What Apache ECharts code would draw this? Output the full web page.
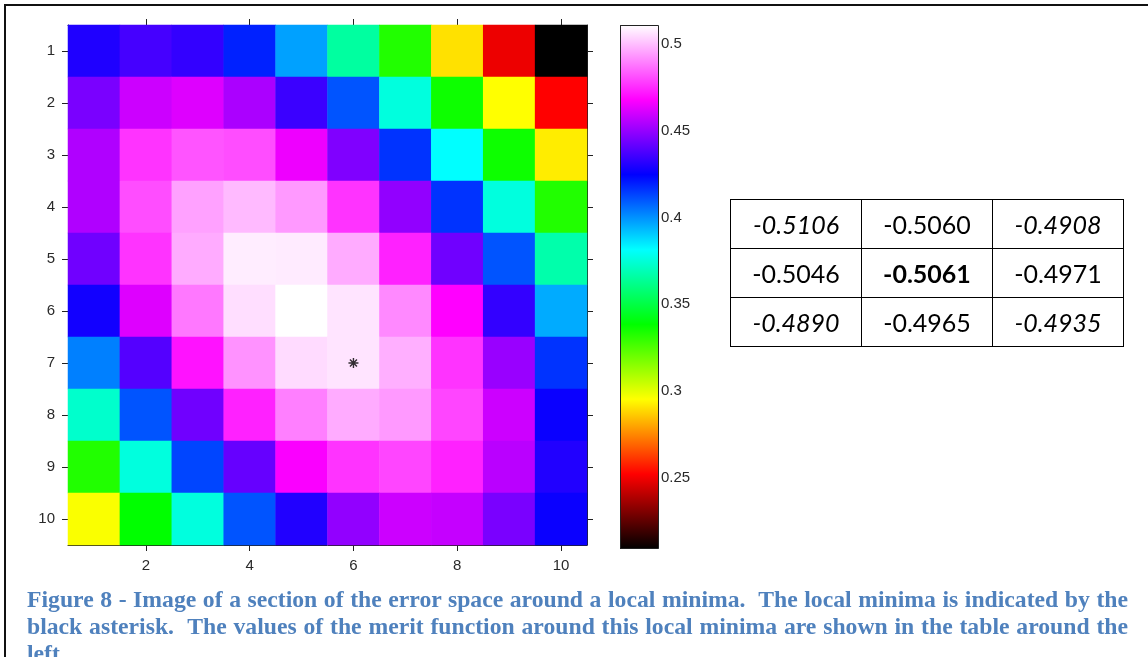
<!DOCTYPE html>
<html>
<head>
<meta charset="utf-8">
<script src="https://cdn.jsdelivr.net/npm/echarts@6/dist/echarts.min.js"></script>
<style>
  html, body { margin: 0; padding: 0; background: #fff; width: 1148px; height: 657px; overflow: hidden; }
  #chart { position: absolute; left: 0; top: 0; width: 1148px; height: 657px; }
  #ftop { position: absolute; left: 4px; top: 4px; width: 1144px; height: 2px; background: #111; }
  #fleft { position: absolute; left: 4px; top: 4px; width: 2px; height: 653px; background: #111; }
  #tbl { position: absolute; left: 730px; top: 199px; border-collapse: collapse; font-family: Lato, "Open Sans", sans-serif; font-size: 25px; color: #000; }
  #tbl td { border: 1px solid #000; width: 130px; height: 48px; padding: 0; text-align: center; vertical-align: middle; }
  .cap { position: absolute; left: 27px; width: 1101px; font-family: "Liberation Serif", "Times New Roman", serif; font-weight: bold; font-size: 23.7px; line-height: 27px; color: #4f81bd; white-space: nowrap; }
  .just { text-align: justify; text-align-last: justify; }
</style>
</head>
<body>
<div id="chart"></div>
<div id="ftop"></div>
<div id="fleft"></div>
<table id="tbl"></table>
<div class="cap just" style="top:586px">Figure 8 - Image of a section of the error space around a local minima.&nbsp; The local minima is indicated by the</div>
<div class="cap just" style="top:613px">black asterisk.&nbsp; The values of the merit function around this local minima are shown in the table around the</div>
<div class="cap" style="top:640px">left</div>
<script>
// ---- data ----
const xCategories = ['1','2','3','4','5','6','7','8','9','10'];
const yCategories = ['1','2','3','4','5','6','7','8','9','10'];
const row1  = [0.4299, 0.4363, 0.4333, 0.4191, 0.3976, 0.3658, 0.3332, 0.2907, 0.2499, 0.2099];
const row2  = [0.4453, 0.4591, 0.4621, 0.4535, 0.4346, 0.4105, 0.3762, 0.3366, 0.2958, 0.2529];
const row3  = [0.4543, 0.4763, 0.4818, 0.4806, 0.4647, 0.4462, 0.4161, 0.3817, 0.3366, 0.2928];
const row4  = [0.4543, 0.4806, 0.4947, 0.4990, 0.4934, 0.4763, 0.4492, 0.4161, 0.3762, 0.3332];
const row5  = [0.4436, 0.4763, 0.4964, 0.5076, 0.5072, 0.4964, 0.4732, 0.4436, 0.4105, 0.3676];
const row6  = [0.4277, 0.4621, 0.4879, 0.5050, 0.5106, 0.5060, 0.4908, 0.4677, 0.4333, 0.3959];
const row7  = [0.4032, 0.4389, 0.4707, 0.4922, 0.5046, 0.5061, 0.4971, 0.4763, 0.4505, 0.4161];
const row8  = [0.3732, 0.4105, 0.4436, 0.4732, 0.4890, 0.4965, 0.4935, 0.4793, 0.4591, 0.4264];
const row9  = [0.3332, 0.3762, 0.4131, 0.4419, 0.4668, 0.4763, 0.4793, 0.4732, 0.4561, 0.4303];
const row10 = [0.2967, 0.3388, 0.3762, 0.4105, 0.4303, 0.4492, 0.4591, 0.4578, 0.4453, 0.4264];
const rows = [row1, row2, row3, row4, row5, row6, row7, row8, row9, row10];
const minimumMarker = ['6', '7'];           // column, row of the asterisk
const colorMin = 0.2099, colorMax = 0.5106;  // colour bar range
const colormap = ['#000000', '#ff0000', '#ffff00', '#00ff00', '#00ffff', '#0000ff', '#ff00ff', '#ffffff'];
// table: merit function (negated) around the minimum: rows 6-8, columns 5-7
const tableRows = [5, 6, 7];
const tableCols = [4, 5, 6];
const tableStyles = [['i','n','i'], ['n','b','n'], ['i','n','i']];

// ---- build ----
const heatData = [];
rows.forEach((r, yi) => r.forEach((v, xi) => heatData.push([xi, yi, v])));

const tbl = document.getElementById('tbl');
tableRows.forEach((ri, a) => {
  const tr = document.createElement('tr');
  tableCols.forEach((ci, b) => {
    const td = document.createElement('td');
    td.textContent = (-rows[ri][ci]).toFixed(4);
    const s = tableStyles[a][b];
    if (s === 'i') td.style.fontStyle = 'italic';
    if (s === 'b') td.style.fontWeight = 'bold';
    tr.appendChild(td);
  });
  tbl.appendChild(tr);
});

const chart = echarts.init(document.getElementById('chart'), null, { renderer: 'canvas' });
const evenIdx = (i) => i % 2 === 1;
const axisFont = { fontFamily: 'Liberation Sans, Arial, sans-serif', fontSize: 15, color: '#2a2a2a' };
const lineStyle = { color: '#222', width: 1 };
const gradStops = colormap.map((c, i) => ({ offset: i / (colormap.length - 1), color: c }));

chart.setOption({
  animation: false,
  backgroundColor: '#fff',
  grid: [
    { left: 68, top: 25, width: 519, height: 520, containLabel: false },
    { left: 620, top: 25, width: 38, height: 523, containLabel: false }
  ],
  xAxis: [
    { type: 'category', data: xCategories, gridIndex: 0, position: 'bottom',
      axisLine: { show: true, lineStyle }, splitLine: { show: false }, splitArea: { show: false },
      axisTick: { show: true, alignWithLabel: true, interval: evenIdx, length: 6, lineStyle },
      axisLabel: Object.assign({ interval: evenIdx, margin: 13 }, axisFont) },
    { type: 'category', data: xCategories, gridIndex: 0, position: 'top',
      axisLine: { show: true, lineStyle }, splitLine: { show: false },
      axisTick: { show: true, alignWithLabel: true, interval: evenIdx, length: 6, lineStyle },
      axisLabel: { show: false } },
    { type: 'value', gridIndex: 1, min: 0, max: 1, show: false }
  ],
  yAxis: [
    { type: 'category', data: yCategories, gridIndex: 0, inverse: true, position: 'left',
      axisLine: { show: true, lineStyle }, splitLine: { show: false }, splitArea: { show: false },
      axisTick: { show: true, alignWithLabel: true, interval: 0, length: 6, lineStyle },
      axisLabel: Object.assign({ interval: 0, margin: 13 }, axisFont) },
    { type: 'category', data: yCategories, gridIndex: 0, inverse: true, position: 'right',
      axisLine: { show: true, lineStyle }, splitLine: { show: false },
      axisTick: { show: true, alignWithLabel: true, interval: 0, length: 6, lineStyle },
      axisLabel: { show: false } },
    { type: 'value', gridIndex: 1, min: colorMin, max: colorMax, position: 'left',
      axisLine: { show: false }, splitLine: { show: false },
      axisTick: { show: true, inside: true, length: 5, lineStyle },
      axisLabel: { show: false } },
    { type: 'value', gridIndex: 1, min: colorMin, max: colorMax, position: 'right',
      axisLine: { show: false }, splitLine: { show: false },
      axisTick: { show: true, inside: true, length: 5, lineStyle },
      axisLabel: Object.assign({ margin: 3, showMinLabel: false, showMaxLabel: false }, axisFont) }
  ],
  visualMap: {
    show: false, type: 'continuous', seriesIndex: 0, dimension: 2,
    min: colorMin, max: colorMax, inRange: { color: colormap }
  },
  series: [
    { type: 'heatmap', xAxisIndex: 0, yAxisIndex: 0, data: heatData, progressive: 0,
      itemStyle: { borderWidth: 0 }, emphasis: { disabled: true } },
    { type: 'scatter', xAxisIndex: 0, yAxisIndex: 0, data: [minimumMarker], z: 5,
      symbol: 'path://M0,-10L0,10M-10,0L10,0M-7,-7L7,7M-7,7L7,-7', symbolSize: 10,
      itemStyle: { color: 'none', borderColor: '#000', borderWidth: 1.4 } },
    { type: 'custom', xAxisIndex: 2, yAxisIndex: 2, data: [[0, colorMin, colorMax]],
      encode: { x: 0, y: [1, 2] }, z: 1,
      renderItem: (params, api) => {
        const cs = params.coordSys;
        const top = api.coord([0, api.value(2)]);
        const bot = api.coord([0, api.value(1)]);
        return {
          type: 'rect',
          shape: { x: cs.x + 0.5, y: Math.round(top[1]) + 0.5, width: cs.width, height: Math.round(bot[1] - top[1]) },
          style: { fill: new echarts.graphic.LinearGradient(0, 1, 0, 0, gradStops), stroke: '#222', lineWidth: 1 }
        };
      } }
  ]
});
</script>
</body>
</html>
